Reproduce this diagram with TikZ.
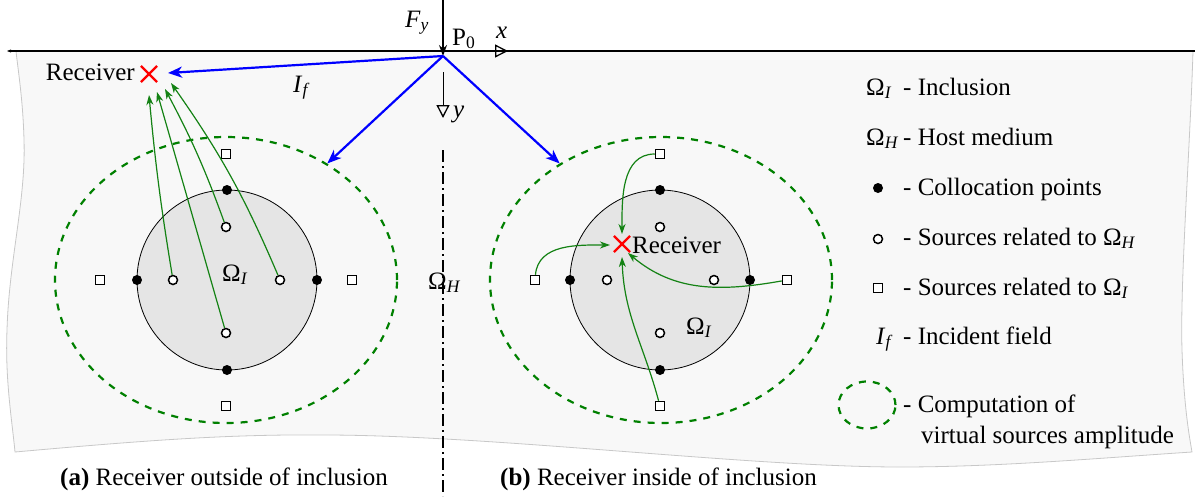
\documentclass[tikz,border=0pt]{standalone}
\usepackage{fontspec}
\setmainfont{Liberation Serif}
\usetikzlibrary{arrows.meta,shapes.geometric,shapes.misc}
\newcommand{\mysub}[1]{\textsubscript{\textit{#1}}}
\definecolor{dgreen}{RGB}{0,128,0}
\definecolor{ggreen}{RGB}{20,130,20}
\definecolor{incgray}{RGB}{229,229,229}
\definecolor{bggray}{RGB}{248,248,248}
\definecolor{edgegray}{RGB}{200,200,200}
\begin{document}
\begin{tikzpicture}[x=1pt,y=1pt,
  lbl/.style={font=\fontsize{25}{30}\selectfont, inner sep=0pt},
  colpt/.style={circle, fill=black, inner sep=0pt, minimum size=10pt},
  srcH/.style={circle, draw=black, fill=white, line width=1.5pt, inner sep=0pt, minimum size=9pt},
  srcI/.style={rectangle, draw=black, fill=white, line width=1.5pt, inner sep=0pt, minimum size=9pt},
  incl/.style={circle, draw=black, line width=0.8pt, fill=incgray, inner sep=0pt, minimum size=180pt},
  compell/.style={ellipse, draw=dgreen, line width=2.2pt, dash pattern=on 7pt off 7pt, inner sep=0pt},
  rx/.style={cross out, draw=red, line width=2.2pt, inner sep=0pt, minimum size=14pt},
  barrow/.style={draw=blue, line width=2.2pt, -{Stealth[length=14pt,width=11pt,inset=4pt]}},
  garrow/.style={draw=ggreen, line width=1.2pt, -{Stealth[length=10pt,width=7pt,inset=3pt]}},
  axarrow/.style={draw=black, line width=1pt, -{Triangle[open,length=13pt,width=13pt,line width=1.3pt]}}
]
\useasboundingbox (0,0) rectangle (1195,-496);
% half-space background
\filldraw[fill=bggray, draw=edgegray, line width=0.8pt]
  (16,-51) -- (1193,-51) .. controls (1190,-150) and (1180,-280) .. (1182,-350)
  .. controls (1184,-410) and (1190,-440) .. (1192,-452)
  .. controls (1100,-458) and (1000,-467) .. (900,-467)
  .. controls (750,-467) and (500,-436) .. (330,-435)
  .. controls (230,-434) and (150,-440) .. (15,-452)
  .. controls (12,-420) and (5,-380) .. (7,-330)
  .. controls (9,-260) and (26,-200) .. (24,-140)
  .. controls (23,-100) and (18,-70) .. (16,-51) -- cycle;
% free surface
\coordinate (TL) at (7,-51);
\coordinate (TR) at (1195,-51);
\draw[line width=1.2pt, {Stealth[length=4pt,width=3pt]}-] (TL) -- (TR);
% symmetry line
\coordinate (DT) at (443,-150);
\coordinate (DB) at (443,-496);
\draw[line width=1.3pt, dash pattern=on 12pt off 4pt on 2pt off 4pt] (DT) -- (DB);
% load and axes
\coordinate (P0) at (443,-56);
\coordinate (Ftop) at (443,0);
\draw[line width=1.2pt, -{Stealth[length=11pt,width=8pt]}] (Ftop) -- (P0);
\coordinate (xs) at (462,-51);
\coordinate (xe) at (508,-51);
\draw[axarrow] (xs) -- (xe);
\coordinate (ys) at (443,-72);
\coordinate (ye) at (443,-118);
\draw[axarrow] (ys) -- (ye);
\node[lbl, anchor=base west] (Fy) at (405,-27) {\textit{F}\mysub{y}};
\node[lbl, anchor=base west] (P0l) at (452,-45) {P\textsubscript{0}};
\node[lbl, anchor=base west] (xl) at (496,-38) {\textit{x}};
\node[lbl, anchor=base west] (yl) at (453,-117) {\textit{y}};
\node[lbl, anchor=base west] (If) at (293,-92) {\textit{I}\mysub{f}};
% ---------- (a) ----------
\node[compell, minimum width=342pt, minimum height=286pt] (EA) at (226,-280) {};
\node[incl] (CA) at (227,-280) {};
\node[colpt] (cA1) at (227,-190) {};
\node[colpt] (cA2) at (137,-280) {};
\node[colpt] (cA3) at (317,-280) {};
\node[colpt] (cA4) at (227,-370) {};
\node[srcH] (hA1) at (226,-227) {};
\node[srcH] (hA2) at (173,-280) {};
\node[srcH] (hA3) at (280,-280) {};
\node[srcH] (hA4) at (226,-333) {};
\node[srcI] (sA1) at (226,-154) {};
\node[srcI] (sA2) at (100,-280) {};
\node[srcI] (sA3) at (352,-280) {};
\node[srcI] (sA4) at (226,-406) {};
\node[lbl, anchor=base west] (OIA) at (222,-281) {Ω\mysub{I}};
\node[rx] (RA) at (149,-74) {};
\node[lbl, anchor=base east] (RAl) at (135,-80) {Receiver};
\coordinate (RAin) at (168,-73);
\coordinate (tA1) at (149,-95);
\coordinate (tA2) at (157,-92);
\coordinate (tA3) at (165,-89);
\coordinate (tA4) at (171,-83);
\draw[garrow] (hA2) to[bend left=2] (tA1);
\draw[garrow] (hA4) to (tA2);
\draw[garrow] (hA1) to[bend right=4] (tA3);
\draw[garrow] (hA3) to[bend right=6] (tA4);
% ---------- (b) ----------
\node[compell, minimum width=342pt, minimum height=286pt] (EB) at (661,-280) {};
\node[incl] (CB) at (660,-280) {};
\node[colpt] (cB1) at (660,-190) {};
\node[colpt] (cB2) at (570,-280) {};
\node[colpt] (cB3) at (750,-280) {};
\node[colpt] (cB4) at (660,-370) {};
\node[srcH] (hB1) at (660,-227) {};
\node[srcH] (hB2) at (607,-280) {};
\node[srcH] (hB3) at (714,-280) {};
\node[srcH] (hB4) at (660,-333) {};
\node[srcI] (sB1) at (660,-154) {};
\node[srcI] (sB2) at (535,-280) {};
\node[srcI] (sB3) at (787,-280) {};
\node[srcI] (sB4) at (660,-406) {};
\node[lbl, anchor=base west] (OIB) at (686,-334) {Ω\mysub{I}};
\node[rx] (RB) at (622,-244) {};
\node[lbl, anchor=base west] (RBl) at (632,-253) {Receiver};
\coordinate (tB1) at (622,-234);
\coordinate (tB2) at (610,-245);
\coordinate (tB3) at (628,-253);
\coordinate (tB4) at (622,-257);
\draw[garrow] (sB1) to[out=180,in=90] (tB1);
\draw[garrow] (sB2) to[out=85,in=180] (tB2);
\draw[garrow] (sB3) to[out=190,in=-40] (tB3);
\draw[garrow] (sB4) to[out=105,in=-88] (tB4);
% host medium label
\node[lbl, anchor=base west] (OH) at (428,-289) {Ω\mysub{H}};
% incident field arrows
\draw[barrow] (P0) -- (RAin);
\draw[barrow] (P0) -- (EA.49);
\draw[barrow] (P0) -- (EB.131);
% ---------- legend ----------
\node[lbl, anchor=base west] (LOI) at (866,-95) {Ω\mysub{I}};
\node[lbl, anchor=base west] (LT1) at (903,-95) {- Inclusion};
\node[lbl, anchor=base west] (LOH) at (866,-145) {Ω\mysub{H}};
\node[lbl, anchor=base west] (LT2) at (903,-145) {- Host medium};
\node[colpt] (LD) at (878,-188) {};
\node[lbl, anchor=base west] (LT3) at (903,-195) {- Collocation points};
\node[srcH] (LO) at (878,-239) {};
\node[lbl, anchor=base west] (LT4) at (903,-245) {- Sources related to Ω\mysub{H}};
\node[srcI] (LS) at (878,-288) {};
\node[lbl, anchor=base west] (LT5) at (903,-295) {- Sources related to Ω\mysub{I}};
\node[lbl, anchor=base west] (LIf) at (876,-344) {\textit{I}\mysub{f}};
\node[lbl, anchor=base west] (LT6) at (903,-344) {- Incident field};
\node[compell, minimum width=57pt, minimum height=47pt] (LE) at (867,-405) {};
\node[lbl, anchor=base west] (LT7) at (903,-412) {- Computation of};
\node[lbl, anchor=base west] (LT8) at (921,-443) {virtual sources amplitude};
% captions
\node[lbl, anchor=base west] (capA) at (60,-485) {\textbf{(a)} Receiver outside of inclusion};
\node[lbl, anchor=base west] (capB) at (500,-485) {\textbf{(b)} Receiver inside of inclusion};
\end{tikzpicture}
\end{document}
